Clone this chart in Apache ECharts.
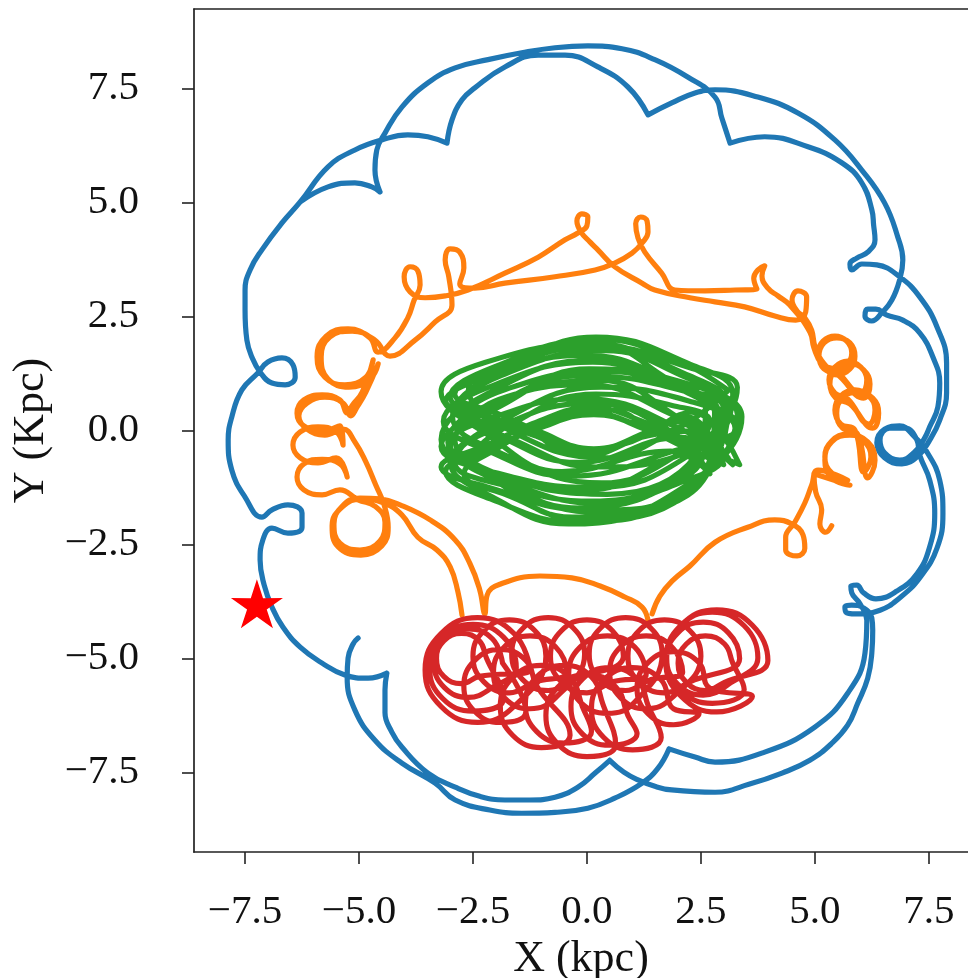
<!DOCTYPE html>
<html><head><meta charset="utf-8">
<script src="https://cdn.jsdelivr.net/npm/echarts@6/dist/echarts.min.js"></script>
<style>html,body{margin:0;padding:0;background:#fff}#c{width:968px;height:978px}</style>
</head><body><div id="c"></div>
<script>
const BRK = ['-', '-'];
const xTicks = [-7.5, -5, -2.5, 0, 2.5, 5, 7.5];
const yTicks = [-7.5, -5, -2.5, 0, 2.5, 5, 7.5];
const starPos = [[-7.24, -3.80]];

const blueOrbit = [
[-5.02,-4.55],[-5.13,-4.68],[-5.24,-4.99],[-5.26,-5.41],[-5.09,-6.13],[-4.65,-6.79],[-4.06,-7.29],[-3.33,-7.73],[-2.89,-8.10],[-2.13,-8.32],[-1.43,-8.39],[-0.70,-8.37],[0.02,-8.28],[0.61,-8.06],[1.21,-7.73],[1.56,-7.40],[1.80,-6.98],
BRK,
[1.80,-6.98],[2.37,-7.16],[2.81,-7.27],[3.90,-7.05],[5.00,-6.50],[5.72,-5.76],[6.10,-4.88],[6.14,-4.16],[5.99,-3.80],[5.81,-3.56],[5.79,-3.41],[5.92,-3.39],[6.07,-3.56],[6.34,-3.69],[6.80,-3.52],[7.24,-3.14],[7.52,-2.55],[7.63,-1.81],[7.52,-1.09],[7.30,-0.54],[7.24,-0.21],[6.97,0.05],[6.64,0.05],[6.43,-0.21],[6.53,-0.49],[6.86,-0.65],[7.19,-0.47],[7.41,-0.16],[7.52,0.08],[7.70,0.52],[7.74,1.04],[7.59,1.61],[7.30,2.14],[6.93,2.42],[6.58,2.53],[6.34,2.66],[6.16,2.66],[6.10,2.51],[6.25,2.40],[6.47,2.58],[6.69,2.86],[6.86,3.30],[6.93,3.74],[6.82,4.24],[6.53,4.99],[6.03,5.71],[5.44,6.37],[4.63,6.96],[3.75,7.31],[2.81,7.47],[2.37,7.40],[1.86,7.18],[1.34,6.92],
BRK,
[1.34,6.92],[0.90,7.53],[0.24,7.97],[-0.48,8.23],[-1.07,8.23],[-1.80,7.97],[-2.46,7.51],[-2.74,7.25],[-2.96,6.81],[-3.07,6.30],
BRK,
[-3.07,6.30],[-3.49,6.44],[-3.93,6.48],[-4.50,6.37],[-5.09,6.15],[-5.68,5.78],[-6.29,5.01],[-6.69,4.55],[-7.13,3.96],[-7.39,3.52],[-7.50,3.08],[-7.50,2.64],[-7.46,1.98],[-7.35,1.61],[-7.17,1.28],[-6.91,1.04],[-6.62,1.00],[-6.40,1.17],[-6.45,1.44],[-6.69,1.59],[-7.00,1.50],[-7.22,1.26],[-7.57,0.89],[-7.79,0.30],[-7.87,-0.21],[-7.79,-0.87],[-7.50,-1.46],[-7.13,-1.90],[-6.91,-1.74],[-6.56,-1.63],[-6.25,-1.81],[-6.25,-2.12],[-6.56,-2.25],[-6.91,-2.14],[-7.11,-2.40],[-7.17,-2.84],[-7.08,-3.39],[-6.91,-3.87],[-6.67,-4.31],[-6.29,-4.75],[-5.81,-5.10],[-5.31,-5.36],[-4.80,-5.43],[-4.39,-5.32],
BRK,
[-4.39,-5.32],[-4.43,-5.69],[-4.43,-6.19],[-4.28,-6.61],[-4.06,-6.94],[-3.49,-7.51],[-2.89,-7.82],[-2.35,-8.02],[-1.80,-8.10],[-1.25,-8.10],[-0.70,-8.04],[-0.20,-7.82],[0.18,-7.51],[0.50,-7.23],
BRK,
[0.50,-7.23],[0.81,-7.49],[1.12,-7.66],[1.49,-7.80],[1.86,-7.88],[2.81,-7.93],[3.57,-7.75],[4.28,-7.51],[4.89,-7.23],[5.37,-6.86],[5.72,-6.46],[5.94,-5.98],[6.16,-5.43],[6.25,-4.88],[6.27,-4.38],[6.25,-4.11],[6.07,-3.89],[5.81,-3.83],[5.66,-3.87],[5.68,-3.98],[5.90,-4.02],[6.43,-3.94],[6.86,-3.67],[7.30,-3.23],[7.68,-2.58],[7.81,-1.81],[7.74,-1.09],[7.46,-0.47],[7.19,-0.14],[6.86,0.10],[6.53,0.03],[6.36,-0.27],[6.53,-0.60],[6.91,-0.73],[7.26,-0.56],[7.52,-0.21],[7.74,0.23],[7.89,0.82],[7.89,1.48],[7.68,2.27],[7.30,2.93],[6.86,3.37],[6.36,3.63],[6.03,3.65],[5.81,3.52],[5.77,3.65],[5.92,3.78],[6.16,3.91],[6.32,4.18],[6.29,4.50],[6.25,4.84],[6.03,5.43],[5.59,5.87],[4.85,6.22],[3.90,6.44],[3.14,6.30],
BRK,
[3.14,6.30],[2.96,6.85],[2.81,7.31],[2.21,7.75],[1.49,8.13],[0.77,8.37],[0.02,8.43],[-0.70,8.39],[-1.43,8.28],[-2.17,8.13],[-2.89,7.95],[-3.49,7.62],[-4.06,7.09],[-4.43,6.52],[-4.61,6.15],[-4.65,5.71],[-4.54,5.23],
BRK,
[-4.54,5.23],[-4.72,5.34],[-5.09,5.43],[-5.68,5.34],[-6.29,5.01]
];

const orangeOrbit = [
[1.43,-4.02],[1.60,-3.63],[1.89,-3.28],[2.26,-2.97],[2.81,-2.45],[3.53,-2.12],[4.12,-1.96],[4.50,-2.05],[4.74,-2.29],[4.78,-2.58],[4.61,-2.75],[4.36,-2.62],[4.36,-2.34],[4.56,-2.01],[4.78,-1.59],[4.93,-1.20],[5.07,-0.87],
[5.72,-1.09],[5.37,-0.93],[5.22,-0.58],[5.37,-0.23],[5.72,-0.08],[6.07,-0.23],[6.23,-0.58],[6.07,-0.91],
[5.88,0.01],[5.57,0.14],[5.44,0.45],[5.57,0.76],[5.88,0.89],[6.18,0.76],[6.32,0.45],[6.18,0.14],
[5.72,0.69],[5.44,0.82],[5.31,1.11],[5.44,1.39],[5.72,1.52],[6.01,1.39],[6.14,1.11],[6.01,0.82],
[5.44,1.33],[5.18,1.44],[5.07,1.70],[5.18,1.96],[5.44,2.07],[5.70,1.96],[5.81,1.70],[5.70,1.44],[5.44,1.31],[5.15,1.53],[5.00,1.85],[4.93,2.20],
[4.78,2.47],[4.61,2.62],[4.50,2.86],[4.63,3.06],[4.82,2.93],[4.80,2.60],[4.58,2.42],[4.12,2.51],[3.46,2.71],[2.81,2.82],[2.26,2.91],[1.49,3.08],[1.21,3.23],[0.61,3.59],[0.24,3.96],[0.07,4.13],[-0.13,4.35],[-0.22,4.59],[-0.11,4.75],[0.02,4.68],[0.00,4.49],[-0.20,4.33],[-0.48,4.18],[-1.07,3.80],[-1.80,3.45],[-2.61,3.08],[-3.11,2.95],[-3.55,2.91],[-3.88,3.04],[-4.01,3.37],[-3.88,3.59],[-3.71,3.50],[-3.66,3.19],[-3.79,2.86],[-3.93,2.47],[-4.21,2.03],[-4.58,1.72],
[-4.76,2.03],[-5.24,2.23],[-5.72,2.07],[-5.92,1.61],[-5.75,1.17],[-5.31,1.00],[-4.85,1.17],[-4.69,1.55],
[-4.93,0.84],[-5.15,0.55],
[-5.26,0.38],[-5.42,0.67],[-5.81,0.78],[-6.21,0.67],[-6.36,0.38],[-6.21,0.10],[-5.81,-0.01],[-5.42,0.10],
[-5.35,-0.32],[-5.50,-0.03],[-5.90,0.08],[-6.29,-0.03],[-6.45,-0.32],[-6.29,-0.60],[-5.90,-0.71],[-5.50,-0.60],
[-5.26,-1.02],[-5.42,-0.73],[-5.81,-0.63],[-6.21,-0.73],[-6.36,-1.02],[-6.21,-1.30],[-5.81,-1.41],[-5.42,-1.30],
[-5.02,-1.52],[-4.65,-1.66],[-4.43,-2.01],[-4.54,-2.42],[-4.98,-2.62],[-5.42,-2.47],[-5.55,-2.05],[-5.37,-1.66],[-4.98,-1.48],[-4.54,-1.50],[-4.10,-1.63],
[-3.44,-1.96],[-2.89,-2.40],[-2.57,-2.91],[-2.35,-3.50],[-2.24,-4.02],
[-2.19,-3.61],[-1.91,-3.37],[-1.03,-3.19],[-0.33,-3.23],[0.29,-3.41],[0.83,-3.65],[1.21,-3.87],[1.34,-4.16],
BRK,
[5.37,-2.09],[5.24,-2.23],[5.11,-2.05],[5.15,-1.74],[5.02,-1.35],[4.98,-0.95],
[5.77,-1.20],[5.37,-1.04],[5.22,-0.65],[5.37,-0.25],[5.77,-0.10],[6.16,-0.25],[6.32,-0.65],[6.16,-1.04],
[5.94,-0.08],[5.61,0.05],[5.48,0.38],[5.61,0.71],[5.94,0.84],[6.27,0.71],[6.40,0.38],[6.27,0.05],
[5.77,0.58],[5.46,0.71],[5.33,1.02],[5.46,1.33],[5.77,1.46],[6.07,1.33],[6.21,1.02],[6.07,0.71],
[5.48,1.24],[5.20,1.35],[5.09,1.63],[5.20,1.92],[5.48,2.03],[5.77,1.92],[5.88,1.63],[5.77,1.35],[5.48,1.22],[5.15,1.46],[4.98,1.81],[4.89,2.16],
[4.45,2.75],[4.19,2.95],[3.97,3.12],[3.84,3.39],[3.90,3.61],[3.75,3.52],[3.66,3.34],[3.73,3.10],[3.25,3.08],[2.59,3.06],[1.93,3.08],
[1.64,3.45],[1.27,3.91],[1.12,4.22],[1.07,4.53],[1.18,4.68],[1.32,4.59],[1.34,4.35],[1.21,4.11],[0.99,3.89],[0.61,3.67],[0.18,3.52],[-0.70,3.37],[-1.80,3.23],[-2.46,3.12],[-2.79,3.21],
[-2.70,3.56],[-2.79,3.91],[-3.00,3.98],[-3.11,3.74],[-3.03,3.37],[-2.96,2.75],[-3.33,2.38],[-3.77,1.98],[-4.32,1.63],
[-4.65,1.98],[-5.15,2.18],[-5.64,2.05],[-5.83,1.61],[-5.68,1.13],[-5.22,0.95],[-4.76,1.13],[-4.58,1.46],[-4.85,0.84],[-5.05,0.50],
[-5.18,0.32],[-5.35,0.60],[-5.75,0.73],[-6.14,0.60],[-6.32,0.32],[-6.14,0.03],[-5.75,-0.10],[-5.35,0.03],
[-5.09,-0.25],[-4.85,-0.69],[-4.63,-1.20],[-4.45,-1.63],
[-4.36,-2.12],[-4.50,-2.53],[-4.96,-2.73],[-5.46,-2.55],[-5.59,-2.09],[-5.37,-1.68],[-4.93,-1.50],[-4.45,-1.59],[-4.06,-1.85],
[-3.71,-2.34],[-3.29,-2.62],[-3.00,-2.99],[-2.83,-3.54],[-2.74,-4.05]
];

const greenOrbit = [
[3.1,0.88],[2.12,1.46],[0.25,2.0],[-2.02,1.40],[-3.0,0.73],[-2.1,0.3],[-1.15,-0.05],[-0.1,-0.45],[1.3,-0.1],[2.2,0.3],
[3.0,-0.75],[2.1,-0.35],[1.3,0.02],[0.15,0.35],[-1.1,0.03],[-2.1,-0.4],[-3.1,-0.9],[-2.12,-1.5],[-0.25,-2.0],[2.02,-1.45],
[3.3,0.35],[2.26,0.83],[-0.05,1.2],[-2.16,0.48],[-3.2,-0.35],[-2.16,-0.88],[0.15,-1.25],[2.26,-0.53],
[3.0,0.6],[2.07,1.21],[0.4,1.75],[-1.87,1.21],[-2.8,0.45],[-1.87,-0.15],[-0.2,-0.7],[2.07,-0.15],
[3.2,-0.75],[2.21,-0.04],[-0.1,0.7],[-2.01,0.3],[-3.0,-0.3],[-2.01,-1.08],[0.3,-1.8],[2.21,-1.42],
[2.9,0.35],[1.94,0.94],[0.13,1.5],[-2.18,0.94],[-3.15,0.2],[-2.18,-0.44],[-0.37,-1.0],[1.94,-0.44],
[3.35,0.1],[2.34,0.62],[0.32,0.95],[-1.9,0.2],[-2.9,-0.7],[-1.9,-1.18],[0.12,-1.55],[2.34,-0.76],
[3.2,0.8],[2.27,1.45],[0.2,2.05],[-1.67,1.45],[-2.6,0.9],[-1.67,-0.01],[0.4,-0.6],[2.27,-0.01],
[3.1,-0.6],[2.2,-0.25],[1.35,0.1],[0.5,0.45],[-0.6,0.32],[-1.2,0.05],[-1.9,-0.35],[-2.7,-0.95],[-1.77,-1.41],[-0.1,-1.95],[2.17,-1.41],
[2.8,0.4],[1.84,1.09],[0.15,1.9],[-2.24,1.49],[-3.2,0.85],[-2.24,-0.05],[-0.55,-0.9],[1.84,-0.45],
[2.7,-0.95],[1.79,0.01],[0.1,0.6],[-2.09,0.01],[-3.0,-0.7],[-2.09,-1.45],[-0.4,-2.05],[1.79,-1.45],
[3.4,0.3],[2.39,0.97],[0.05,1.35],[-1.89,0.54],[-2.9,-0.2],[-1.89,-0.98],[0.45,-1.4],[2.39,-0.55],
[2.6,0.5],[1.69,1.17],[-0.05,1.65],[-2.19,1.17],[-3.1,0.65],[-2.1,0.25],[-1.1,-0.1],[-0.45,-0.5],[0.8,-0.3],[1.4,-0.05],[1.9,0.2],
[2.9,-0.5],[2.0,-0.2],[1.2,0.1],[0.0,0.4],[-1.0,0.1],[-1.8,-0.25],[-2.6,-0.65],[-1.72,-1.15],[0.3,-1.6],[2.02,-1.15],
[3.0,-0.55],[2.03,0.27],[0.28,1.1],[-2.07,0.6],[-3.05,-0.25],[-2.07,-1.06],[-0.32,-1.9],[2.03,-1.39],
[3.1,0.5],[2.13,1.25],[-0.18,1.95],[-1.99,1.25],[-2.95,0.3],[-1.99,-0.45],[0.32,-1.15],[2.13,-0.45],
[2.7,0.2],[1.87,0.55],[0.2,0.8],[-1.67,0.13],[-2.5,-0.65],[-1.67,-1.03],[0.0,-1.3],[1.87,-0.6],
[3.25,0.05],[2.22,0.82],[0.18,1.55],[-2.16,0.82],[-3.2,-0.2],[-2.16,-0.98],[-0.12,-1.7],[2.22,-0.98],
[2.6,-0.2],[1.8,0.38],[0.0,1.0],[-1.6,0.79],[-2.4,0.3],[-1.6,-0.21],[0.2,-0.8],[1.8,-0.62],
[3.3,0.95],[2.31,1.36],[0.25,1.85],[-1.91,1.36],[-2.9,0.8],[-1.9,0.35],[-1.1,0.0],[0.15,-0.4],[1.35,-0.02],[2.3,0.4],
[3.35,-0.75],[2.3,-0.3],[1.35,0.15],[0.08,0.5],[-1.2,0.15],[-2.15,-0.3],[-3.2,-0.8],[-2.15,-1.25],[0.08,-1.75],[2.31,-1.25],
[3.0,0.45],[2.09,0.9],[0.35,1.3],[-1.79,0.9],[-2.7,0.3],[-1.8,0.1],[-1.05,-0.15],[-0.05,-0.55],[1.2,-0.15],[2.09,0.1],
[3.1,0.88]
];

const redOrbit = [
[-1.85,-5.10],[-2.07,-4.57],[-2.60,-4.35],[-3.13,-4.57],[-3.35,-5.10],[-3.13,-5.63],[-2.60,-5.85],[-2.07,-5.63],
[-1.55,-5.20],[-1.83,-4.53],[-2.50,-4.25],[-3.17,-4.53],[-3.45,-5.20],[-3.17,-5.87],[-2.50,-6.15],[-1.83,-5.87],
[-2.20,-5.00],[-2.36,-4.61],[-2.75,-4.45],[-3.14,-4.61],[-3.30,-5.00],[-3.14,-5.39],[-2.75,-5.55],[-2.36,-5.39],
[-1.25,-5.25],[-1.60,-4.45],[-2.40,-4.10],[-3.20,-4.45],[-3.55,-5.25],[-3.20,-6.05],[-2.40,-6.40],[-1.60,-6.05],
[-0.90,-4.95],[-1.14,-4.39],[-1.70,-4.15],[-2.26,-4.39],[-2.50,-4.95],[-2.26,-5.51],[-1.70,-5.75],[-1.14,-5.51],
[-0.45,-5.30],[-0.69,-4.74],[-1.25,-4.50],[-1.81,-4.74],[-2.05,-5.30],[-1.81,-5.86],[-1.25,-6.10],[-0.69,-5.86],
[-0.05,-4.90],[-0.29,-4.34],[-0.85,-4.10],[-1.41,-4.34],[-1.65,-4.90],[-1.41,-5.46],[-0.85,-5.70],[-0.29,-5.46],
[0.80,-4.95],[0.56,-4.39],[0.00,-4.15],[-0.56,-4.39],[-0.80,-4.95],[-0.56,-5.51],[0.00,-5.75],[0.56,-5.51],
[1.30,-5.35],[1.05,-4.75],[0.45,-4.50],[-0.15,-4.75],[-0.40,-5.35],[-0.15,-5.95],[0.45,-6.20],[1.05,-5.95],
[1.65,-4.90],[1.41,-4.34],[0.85,-4.10],[0.29,-4.34],[0.05,-4.90],[0.29,-5.46],[0.85,-5.70],[1.41,-5.46],
[2.10,-5.30],[1.86,-4.74],[1.30,-4.50],[0.74,-4.74],[0.50,-5.30],[0.74,-5.86],[1.30,-6.10],[1.86,-5.86],
[2.50,-4.95],[2.26,-4.39],[1.70,-4.15],[1.14,-4.39],[0.90,-4.95],[1.14,-5.51],[1.70,-5.75],[2.26,-5.51],
[3.35,-5.00],[3.11,-4.44],[2.55,-4.20],[1.99,-4.44],[1.75,-5.00],[1.99,-5.56],[2.55,-5.80],[3.11,-5.56],
[3.75,-4.98],[3.45,-4.28],[2.75,-3.98],[2.05,-4.28],[1.75,-4.98],[2.05,-5.68],[2.75,-5.98],[3.45,-5.68],
[3.20,-5.10],[3.02,-4.68],[2.60,-4.50],[2.18,-4.68],[2.00,-5.10],[2.18,-5.52],[2.60,-5.70],[3.02,-5.52],
[3.97,-5.05],[3.63,-4.27],[2.85,-3.93],[2.07,-4.27],[1.73,-5.05],[2.07,-5.83],[2.85,-6.17],[3.63,-5.83],
[2.70,-5.65],[2.46,-5.09],[1.90,-4.85],[1.34,-5.09],[1.10,-5.65],[1.34,-6.21],[1.90,-6.45],[2.46,-6.21],
[1.90,-6.10],[1.63,-5.47],[1.00,-5.20],[0.37,-5.47],[0.10,-6.10],[0.37,-6.73],[1.00,-7.00],[1.63,-6.73],
[1.35,-6.05],[1.10,-5.45],[0.50,-5.20],[-0.10,-5.45],[-0.35,-6.05],[-0.10,-6.65],[0.50,-6.90],[1.10,-6.65],
[0.90,-6.25],[0.63,-5.62],[0.00,-5.35],[-0.63,-5.62],[-0.90,-6.25],[-0.63,-6.88],[0.00,-7.15],[0.63,-6.88],
[0.35,-6.00],[0.10,-5.40],[-0.50,-5.15],[-1.10,-5.40],[-1.35,-6.00],[-1.10,-6.60],[-0.50,-6.85],[0.10,-6.60],
[-0.10,-6.05],[-0.37,-5.42],[-1.00,-5.15],[-1.63,-5.42],[-1.90,-6.05],[-1.63,-6.68],[-1.00,-6.95],[-0.37,-6.68],
[-1.10,-5.60],[-1.34,-5.04],[-1.90,-4.80],[-2.46,-5.04],[-2.70,-5.60],[-2.46,-6.16],[-1.90,-6.40],[-1.34,-6.16],
[-1.85,-5.10]
];

const FONT = 'Liberation Serif';
const fmt = v => (v < 0 ? '\u2212' : '') + Math.abs(v).toFixed(1);
const lineSeries = (name, data, color) => ({
  name, type: 'line', data, showSymbol: false, smooth: 0.45,
  lineStyle: { color, width: 5.2, cap: 'round', join: 'round' },
  silent: true, animation: false, connectNulls: false
});
const frameLine = { show: true, onZero: false, lineStyle: { color: '#222', width: 1.7 } };

const chart = echarts.init(document.getElementById('c'), null, { renderer: 'canvas' });
chart.setOption({
  backgroundColor: '#ffffff',
  animation: false,
  grid: { left: 194, top: 9, right: 0, bottom: 126, show: false, containLabel: false, outerBoundsMode: 'none' },
  xAxis: [{
    type: 'value', position: 'bottom', min: -8.62, max: 8.36,
    name: 'X (kpc)', nameLocation: 'middle', nameGap: 84,
    nameTextStyle: { fontFamily: FONT, fontSize: 44, color: '#111' },
    axisLine: frameLine,
    splitLine: { show: false },
    axisTick: { show: true, inside: false, length: 12, customValues: xTicks, lineStyle: { color: '#222', width: 1.6 } },
    axisLabel: { customValues: xTicks, formatter: fmt, margin: 40, fontFamily: FONT, fontSize: 41, color: '#111' }
  }, {
    type: 'value', position: 'top', min: -8.62, max: 8.36,
    axisLine: frameLine, axisTick: { show: false }, axisLabel: { show: false }, splitLine: { show: false }
  }],
  yAxis: {
    type: 'value', position: 'left', min: -9.24, max: 9.24,
    name: 'Y (Kpc)', nameLocation: 'middle', nameGap: 136, nameRotate: 90,
    nameTextStyle: { fontFamily: FONT, fontSize: 44, color: '#111' },
    axisLine: frameLine,
    splitLine: { show: false },
    axisTick: { show: true, inside: false, length: 12, customValues: yTicks, lineStyle: { color: '#222', width: 1.6 } },
    axisLabel: { customValues: yTicks, formatter: fmt, margin: 55, fontFamily: FONT, fontSize: 41, color: '#111' }
  },
  series: [
    lineSeries('blue', blueOrbit, '#1f77b4'),
    lineSeries('orange', orangeOrbit, '#ff7f0e'),
    lineSeries('green', greenOrbit, '#2ca02c'),
    lineSeries('red', redOrbit, '#d62728'),
    {
      name: 'star', type: 'scatter', data: starPos, silent: true, animation: false,
      symbol: 'path://M50,0L61.2,34.7L97.6,34.5L68,55.9L79.4,90.5L50,69L20.6,90.5L32,55.9L2.4,34.5L38.8,34.7Z',
      symbolSize: [52, 49], itemStyle: { color: '#ff0000', opacity: 1 }, z: 10
    }
  ]
});
</script>
</body></html>
